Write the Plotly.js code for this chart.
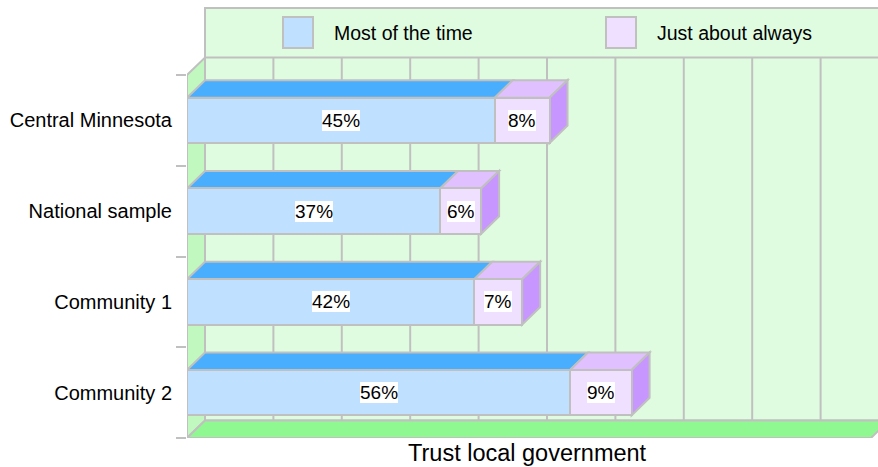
<!DOCTYPE html>
<html><head><meta charset="utf-8">
<script src="https://cdn.plot.ly/plotly-3.0.1.min.js"></script>
<style>html,body{margin:0;padding:0;background:#fff}</style>
</head><body><div id="chart" style="width:878px;height:467px"></div>
<script>
const categories = ['Central Minnesota', 'National sample', 'Community 1', 'Community 2'];
const mostOfTheTime = [45, 37, 42, 56];
const justAboutAlways = [8, 6, 7, 9];
const seriesNames = ['Most of the time', 'Just about always'];
const gridValues = [0, 10, 20, 30, 40, 50, 60, 70, 80, 90, 100];
const axisTitle = 'Trust local government';

const FONT = 'Liberation Sans, Arial, Helvetica, sans-serif';
const GRAY = '#c0c0c0';
const C = {
  blueFront: '#c0e0ff', blueTop: '#4aaeff',
  pinkFront: '#f0e0ff', pinkTop: '#e0c0ff', pinkSide: '#c896ff',
  wall: '#e0fce0', side: '#c0f8c0', floor: '#90f890'
};

// geometry (pixels -> data units)
const W = 878, H = 467, ML = 187, MB = 29;
const PXX = 6.84;            // px per percent
const PXY = 90.75;           // px per category
const plotH = H - MB;        // margin top 0
const plotW = W - ML;
const XMAX = plotW / PXX;
const YMIN = -0.5, YMAX = -0.5 + plotH / PXY;
const xd = px => (px - ML) / PXX;
const yd = py => -0.5 + (plotH - py) / PXY;
const DX = 18 / PXX, DY = 17.5 / PXY;
const BAR_W = 0.5;
const nCat = categories.length;
const yPos = categories.map((c, i) => nCat - 1 - i);
const FRONT_TOP = nCat - 0.5;
const XEND = gridValues[gridValues.length - 1];

const shapes = [];
const poly = (pts, fill) => ({
  type: 'path', xref: 'x', yref: 'y', layer: 'below',
  path: 'M' + pts.map(p => p[0] + ',' + p[1]).join('L') + 'Z',
  fillcolor: fill, line: {color: GRAY, width: 2}
});
// back wall (including legend area)
shapes.push(poly([[DX, YMIN + DY], [xd(W + 20), YMIN + DY], [xd(W + 20), yd(8)], [DX, yd(8)]], C.wall));
// legend bottom separator
shapes.push({type: 'line', xref: 'x', yref: 'y', layer: 'below', x0: DX, x1: xd(W + 20),
  y0: FRONT_TOP + DY, y1: FRONT_TOP + DY, line: {color: GRAY, width: 2}});
// gridlines on the back wall
gridValues.forEach(v => shapes.push({type: 'line', xref: 'x', yref: 'y', layer: 'below',
  x0: v + DX, x1: v + DX, y0: YMIN + DY, y1: FRONT_TOP + DY, line: {color: GRAY, width: 2}}));
// left side wall
shapes.push(poly([[0, FRONT_TOP], [DX, FRONT_TOP + DY], [DX, YMIN + DY], [0, YMIN]], C.side));
// floor
shapes.push(poly([[0, YMIN], [XEND, YMIN], [XEND + DX, YMIN + DY], [DX, YMIN + DY]], C.floor));

// 3D faces of bars
categories.forEach((c, i) => {
  const y = yPos[i], yt = y + BAR_W / 2, yb = y - BAR_W / 2;
  const a = mostOfTheTime[i], b = a + justAboutAlways[i];
  shapes.push(poly([[0, yt], [a, yt], [a + DX, yt + DY], [DX, yt + DY]], C.blueTop));
  shapes.push(poly([[a, yt], [b, yt], [b + DX, yt + DY], [a + DX, yt + DY]], C.pinkTop));
  shapes.push(poly([[b, yt], [b + DX, yt + DY], [b + DX, yb + DY], [b, yb]], C.pinkSide));
});

// legend swatches
const rectPx = (x0, y0, x1, y1, fill) => ({type: 'rect', xref: 'x', yref: 'y', layer: 'below',
  x0: xd(x0), x1: xd(x1), y0: yd(y0), y1: yd(y1), fillcolor: fill, line: {color: GRAY, width: 2}});
shapes.push(rectPx(283, 17, 313, 48, C.blueFront));
shapes.push(rectPx(606, 17, 636, 48, C.pinkFront));

const annotations = [];
const lab = (x, y, t) => ({x, y, xref: 'x', yref: 'y', text: t, showarrow: false,
  font: {family: FONT, size: 19, color: '#000'}, bgcolor: '#ffffff', borderpad: 0, borderwidth: 0});
categories.forEach((c, i) => {
  const a = mostOfTheTime[i], b = justAboutAlways[i];
  annotations.push(lab(a / 2, yPos[i], a + '%'));
  annotations.push(lab(a + b / 2, yPos[i], b + '%'));
});
annotations.push({x: xd(332), y: yd(33), xref: 'x', yref: 'y', xanchor: 'left', yanchor: 'middle',
  text: seriesNames[0], showarrow: false, font: {family: FONT, size: 19.5, color: '#000'}});
annotations.push({x: xd(655), y: yd(33), xref: 'x', yref: 'y', xanchor: 'left', yanchor: 'middle',
  text: seriesNames[1], showarrow: false, font: {family: FONT, size: 19.5, color: '#000'}});
annotations.push({x: (527.5 - ML) / plotW, y: (plotH - 453) / plotH, xref: 'paper', yref: 'paper',
  xanchor: 'center', yanchor: 'middle', text: axisTitle, showarrow: false,
  font: {family: FONT, size: 23.5, color: '#000'}});

const traces = [
  {type: 'bar', orientation: 'h', name: seriesNames[0], y: yPos, x: mostOfTheTime, width: BAR_W,
   marker: {color: C.blueFront, line: {color: GRAY, width: 2}}, hoverinfo: 'skip', showlegend: false},
  {type: 'bar', orientation: 'h', name: seriesNames[1], y: yPos, x: justAboutAlways, width: BAR_W,
   marker: {color: C.pinkFront, line: {color: GRAY, width: 2}}, hoverinfo: 'skip', showlegend: false}
];

const layout = {
  width: W, height: H,
  margin: {l: ML, r: 0, t: 0, b: MB, pad: 0},
  paper_bgcolor: '#ffffff', plot_bgcolor: '#ffffff',
  barmode: 'stack', showlegend: false,
  font: {family: FONT, color: '#000'},
  xaxis: {range: [0, XMAX], showgrid: false, zeroline: false, showline: false,
    showticklabels: false, ticks: '', fixedrange: true},
  yaxis: {range: [YMIN, YMAX], showgrid: false, zeroline: false, showline: false,
    tickmode: 'array', tickvals: yPos, ticktext: categories, ticks: '',
    tickfont: {family: FONT, size: 20, color: '#000'}, ticklabelstandoff: 14,
    minor: {tickmode: 'array', tickvals: yPos.map(v => v - 0.5).concat([FRONT_TOP]),
      ticks: 'outside', ticklen: 10, tickcolor: GRAY, tickwidth: 2, showgrid: false},
    fixedrange: true},
  shapes, annotations
};
Plotly.newPlot('chart', traces, layout, {displayModeBar: false, staticPlot: true});
</script></body></html>
